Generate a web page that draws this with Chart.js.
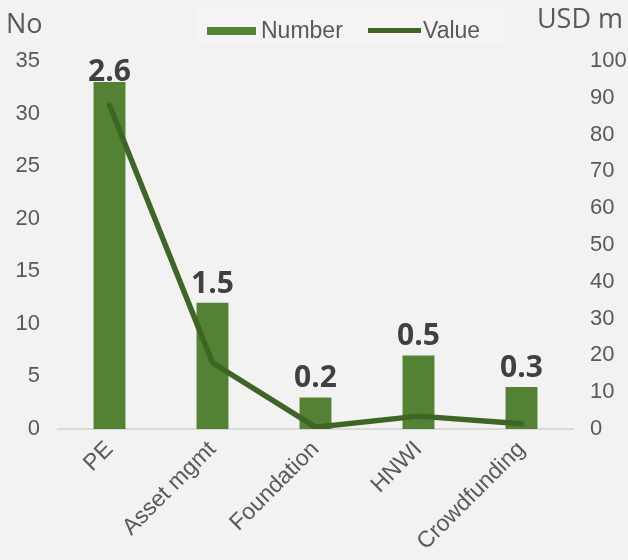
<!DOCTYPE html>
<html>
<head>
<meta charset="utf-8">
<script src="https://cdn.jsdelivr.net/npm/chart.js@4/dist/chart.umd.min.js"></script>
<style>
html,body{margin:0;padding:0;background:#f2f2f2;}
#wrap{position:relative;width:628px;height:560px;}
</style>
</head>
<body>
<div id="wrap"><canvas id="c" width="628" height="560"></canvas></div>
<script>
const categories = ["PE", "Asset mgmt", "Foundation", "HNWI", "Crowdfunding"];
const numberValues = [33, 12, 3, 7, 4];
const valueUSDm = [88, 18, 0.5, 3.5, 1.4];
const barLabels = ["2.6", "1.5", "0.2", "0.5", "0.3"];
const leftTicks = [0, 5, 10, 15, 20, 25, 30, 35];
const rightTicks = [0, 10, 20, 30, 40, 50, 60, 70, 80, 90, 100];

const BAR = '#548235';
const LINE = '#3e6526';
const TICK = '#595959';

const overlay = {
  id: 'overlay',
  afterDatasetsDraw(chart) {
    const ctx = chart.ctx;
    ctx.save();
    // axis titles
    ctx.fillStyle = TICK;
    ctx.font = '27px "Open Sans"';
    ctx.textBaseline = 'alphabetic';
    ctx.textAlign = 'left';
    ctx.fillText('No', 6, 33);
    ctx.textAlign = 'right';
    ctx.fillText('USD m', 623, 28);
    // legend
    ctx.fillStyle = '#f4f4f4';
    ctx.fillRect(197, 7, 313, 36);
    ctx.fillStyle = BAR;
    ctx.fillRect(207, 27, 49, 8);
    ctx.strokeStyle = LINE;
    ctx.lineWidth = 5;
    ctx.beginPath(); ctx.moveTo(368, 30.5); ctx.lineTo(421, 30.5); ctx.stroke();
    ctx.fillStyle = TICK;
    ctx.textAlign = 'left';
    ctx.textBaseline = 'alphabetic';
    ctx.font = '23px "Liberation Sans"';
    ctx.fillText('Number', 261, 38);
    ctx.fillText('Value', 423, 38);
    // bar labels
    const meta = chart.getDatasetMeta(1);
    ctx.fillStyle = '#404040';
    ctx.font = 'bold 30px "Open Sans"';
    ctx.textAlign = 'center';
    ctx.textBaseline = 'alphabetic';
    meta.data.forEach((b, i) => {
      const y = Math.max(b.y - 10, chart.chartArea.top + 20);
      ctx.fillText(barLabels[i], b.x, y);
    });
    ctx.restore();
  }
};

new Chart(document.getElementById('c'), {
  data: {
    labels: categories,
    datasets: [
      {
        type: 'line', label: 'Value', data: valueUSDm, yAxisID: 'y2',
        borderColor: LINE, borderWidth: 5.5, pointRadius: 0, tension: 0,
        borderCapStyle: 'round', borderJoinStyle: 'round', order: 0
      },
      {
        type: 'bar', label: 'Number', data: numberValues, yAxisID: 'y',
        backgroundColor: BAR, barPercentage: 0.31, categoryPercentage: 1, order: 1
      }
    ]
  },
  options: {
    responsive: false,
    animation: false,
    layout: { padding: { top: 61, left: 0, right: 0, bottom: 0 } },
    plugins: { legend: { display: false }, tooltip: { enabled: false } },
    scales: {
      x: {
        grid: { display: false, drawTicks: false },
        border: { display: true, color: '#d9d9d9', width: 2 },
        ticks: { color: TICK, font: { family: 'Liberation Sans', size: 23 }, minRotation: 45, maxRotation: 45, padding: 7 },
        afterFit(s) { s.height = 131; }
      },
      y: {
        position: 'left', min: 0, max: 35,
        grid: { display: false, drawTicks: false }, border: { display: false },
        afterBuildTicks(s) { s.ticks = leftTicks.map(v => ({ value: v })); },
        ticks: { color: TICK, font: { family: 'Liberation Sans', size: 22 }, padding: 18 },
        afterFit(s) { s.width = 58; }
      },
      y2: {
        position: 'right', min: 0, max: 100,
        grid: { display: false, drawTicks: false }, border: { display: false },
        afterBuildTicks(s) { s.ticks = rightTicks.map(v => ({ value: v })); },
        ticks: { color: TICK, font: { family: 'Liberation Sans', size: 22 }, padding: 17 },
        afterFit(s) { s.width = 55; }
      }
    }
  },
  plugins: [overlay]
});
</script>
</body>
</html>
